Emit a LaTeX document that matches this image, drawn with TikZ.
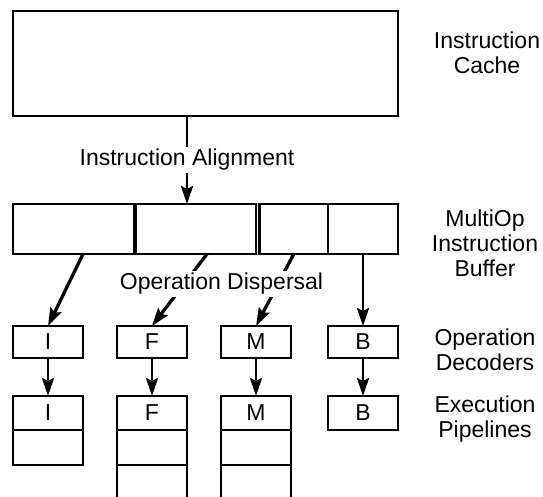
\documentclass[tikz,border=0pt]{standalone}
\usepackage{fontspec}
\setmainfont{Liberation Sans}
\usetikzlibrary{arrows.meta}

\begin{document}
\begin{tikzpicture}[x=1pt,y=-1pt,line width=2.8pt,
	font=\fontsize{23}{25}\selectfont,
	unit/.style={draw,minimum width=70pt,inner sep=0pt,outer sep=0pt},
	flow/.style={-{Stealth[length=18pt,width=12pt,inset=3pt]}},
	tag/.style={fill=white,inner sep=2pt}]
	\useasboundingbox (0,0) rectangle (543,497);

	% instruction cache and multiop buffer
	\node[unit,minimum width=385pt,minimum height=105pt] (cache) at (205.5,63.5) {};
	\node[unit,minimum width=121pt,minimum height=50pt] (buf1) at (73.5,229) {};
	\node[unit,minimum width=120pt,minimum height=50pt] (buf2) at (196,229) {};
	\node[unit,minimum width=68.5pt,minimum height=50pt] (buf3) at (293.75,229) {};
	\node[unit,minimum width=70pt,minimum height=50pt] (buf4) at (363,229) {};

	% operation decoders
	\node[unit,minimum height=32pt] (decI) at (48,342) {I};
	\node[unit,minimum height=32pt] (decF) at (152,342) {F};
	\node[unit,minimum height=32pt] (decM) at (256,342) {M};
	\node[unit,minimum height=32pt] (decB) at (363,342) {B};

	% execution pipelines
	\node[unit,minimum height=34pt] (pI1) at (48,413) {I};
	\node[unit,minimum height=35pt] (pI2) at (48,447.5) {};
	\node[unit,minimum height=34pt] (pF1) at (152,413) {F};
	\node[unit,minimum height=35pt] (pF2) at (152,447.5) {};
	\node[unit,minimum height=34pt] (pM1) at (256,413) {M};
	\node[unit,minimum height=35pt] (pM2) at (256,447.5) {};
	\node[unit,minimum height=34pt] (pB1) at (363,413) {B};
	\draw (pF2.south west) -- ++(0,35);
	\draw (pF2.south east) -- ++(0,35);
	\draw (pM2.south west) -- ++(0,35);
	\draw (pM2.south east) -- ++(0,35);

	% alignment and dispersal
	\draw[flow] ([xshift=-18.5pt]cache.south) -- node[tag] (align) {Instruction Alignment} ([xshift=-9pt]buf2.north);
	\draw[flow,line width=3.3pt] ([xshift=9.5pt]buf1.south) -- (decI.north);
	\draw[flow,line width=3.3pt] ([xshift=11pt]buf2.south) -- (decF.north);
	\draw[flow,line width=3.3pt] (buf3.south) -- (decM.north);
	\draw[flow] (buf4.south) -- (decB.north);
	\node[tag] (disp) at (221.5,284) {Operation Dispersal};

	\draw[flow] (decI) -- (pI1);
	\draw[flow] (decF) -- (pF1);
	\draw[flow] (decM) -- (pM1);
	\draw[flow] (decB) -- (pB1);

	% stage labels
	\node[align=center] (lcache) at (487,52.5) {Instruction\\Cache};
	\node[align=center] (lbuf) at (485,243) {MultiOp\\Instruction\\Buffer};
	\node[align=center] (ldec) at (485,349.5) {Operation\\Decoders};
	\node[align=center] (lpipe) at (485,419.5) {Execution\\Pipelines};
\end{tikzpicture}
\end{document}
